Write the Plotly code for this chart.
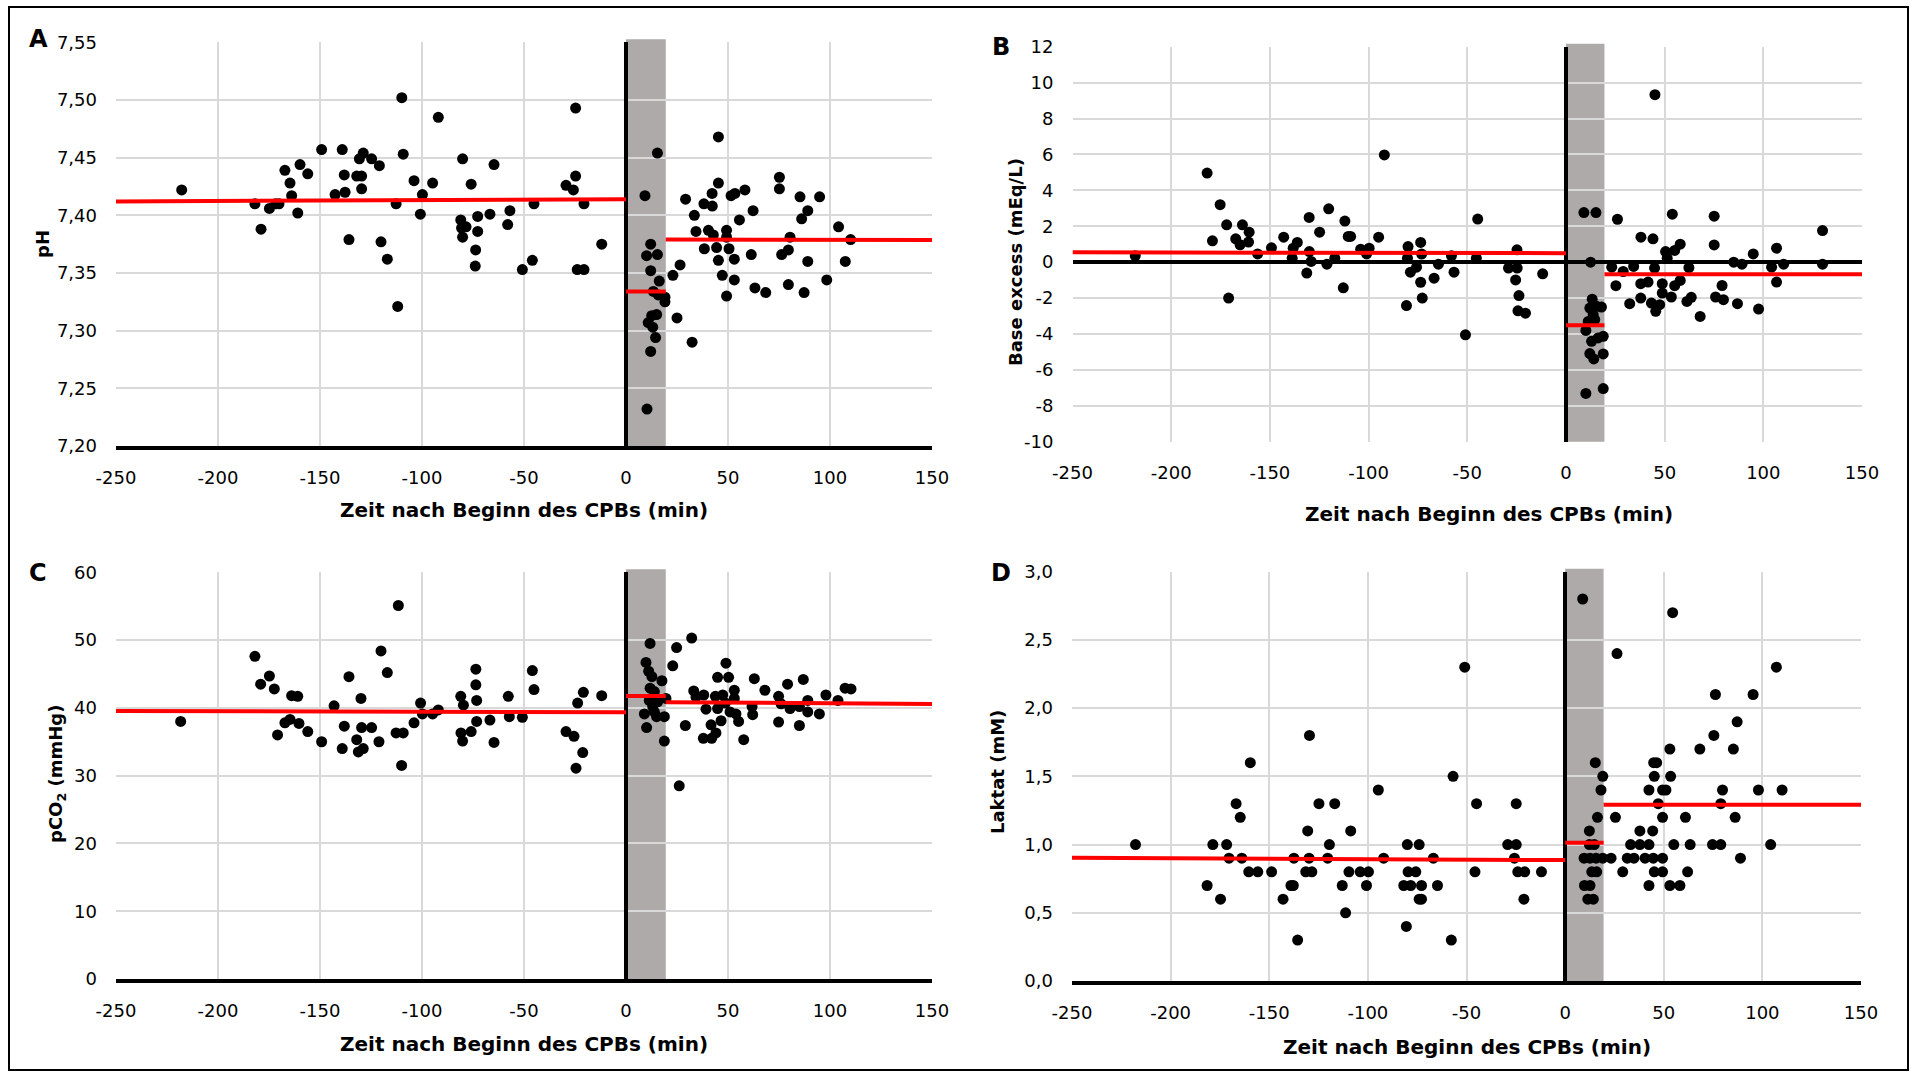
import plotly.graph_objects as go

# ---------------------------------------------------------------------------
# Axis ticks
# ---------------------------------------------------------------------------
time_tickvals = [-250, -200, -150, -100, -50, 0, 50, 100, 150]
time_ticktext = ["-250", "-200", "-150", "-100", "-50", "0", "50", "100", "150"]

ph_tickvals = [7.20, 7.25, 7.30, 7.35, 7.40, 7.45, 7.50, 7.55]
ph_ticktext = ["7,20", "7,25", "7,30", "7,35", "7,40", "7,45", "7,50", "7,55"]

be_tickvals = [-10, -8, -6, -4, -2, 0, 2, 4, 6, 8, 10, 12]
be_ticktext = ["-10", "-8", "-6", "-4", "-2", "0", "2", "4", "6", "8", "10", "12"]

pco2_tickvals = [0, 10, 20, 30, 40, 50, 60]
pco2_ticktext = ["0", "10", "20", "30", "40", "50", "60"]

lac_tickvals = [0.0, 0.5, 1.0, 1.5, 2.0, 2.5, 3.0]
lac_ticktext = ["0,0", "0,5", "1,0", "1,5", "2,0", "2,5", "3,0"]

# Time spans (min) of the three phases around the start of CPB
pre_span = [-250, 0]
cpb_span = [0, 19.5]
post_span = [19.5, 150]

# ---------------------------------------------------------------------------
# A: pH
# ---------------------------------------------------------------------------
ph_time = [
    -217.8, -181.9, -178.9, -174.8, -171.7, -170.1, -167.2, -164.7, -163.9, -160.9,
    -159.8, -156.0, -149.2, -142.6, -139.1, -138.1, -137.7, -135.8, -132.0, -129.6,
    -130.7, -128.8, -129.6, -124.7, -120.9, -120.1, -117.0, -112.7, -111.9, -109.9,
    -109.2, -103.9, -100.8, -99.8, -94.8, -92.0, -81.0, -80.1, -80.6, -78.4,
    -80.1, -75.9, -73.7, -73.9, -72.7, -72.7, -66.7, -64.7, -58.0, -56.9,
    -50.8, -45.9, -45.1, -29.4, -25.8, -24.7, -24.7, -23.9, -20.6, -20.6,
    -11.9,
    9.3, 15.4, 12.1, 10.1, 15.4, 12.1, 16.3, 13.4, 15.8, 19.1,
    19.1, 12.6, 15.0, 10.9, 13.1, 14.5, 12.1, 10.3,
    23.0, 26.5, 25.0, 32.4, 29.2, 33.5, 34.3, 38.4, 38.2, 42.3,
    42.2, 40.4, 42.8, 45.3, 45.3, 44.4, 45.3, 47.2, 49.3, 49.3,
    49.3, 50.5, 51.5, 53.4, 53.1, 53.1, 55.6, 58.3, 62.3, 61.4,
    63.2, 68.5, 75.2, 75.2, 76.3, 79.6, 80.4, 79.6, 85.3, 86.1,
    89.1, 89.1, 87.3, 94.9, 98.4, 104.2, 110.1, 107.5,
]
ph_value = [
    7.422, 7.410, 7.388, 7.406, 7.410, 7.410, 7.439, 7.428, 7.417, 7.402,
    7.444, 7.436, 7.457, 7.418, 7.457, 7.435, 7.420, 7.379, 7.434, 7.434,
    7.449, 7.454, 7.423, 7.449, 7.443, 7.377, 7.362, 7.410, 7.321, 7.502,
    7.453, 7.430, 7.401, 7.418, 7.428, 7.485, 7.396, 7.449, 7.389, 7.390,
    7.381, 7.427, 7.370, 7.356, 7.386, 7.399, 7.401, 7.444, 7.392, 7.404,
    7.353, 7.361, 7.410, 7.426, 7.422, 7.434, 7.493, 7.353, 7.353, 7.410,
    7.375,
    7.417, 7.454, 7.375, 7.365, 7.366, 7.352, 7.343, 7.334, 7.331, 7.329,
    7.325, 7.313, 7.314, 7.307, 7.303, 7.294, 7.282, 7.232,
    7.348, 7.357, 7.311, 7.290, 7.414, 7.400, 7.386, 7.371, 7.410, 7.408,
    7.419, 7.387, 7.383, 7.468, 7.428, 7.372, 7.361, 7.348, 7.387, 7.381,
    7.330, 7.371, 7.417, 7.419, 7.362, 7.344, 7.396, 7.422, 7.404, 7.366,
    7.337, 7.333, 7.433, 7.423, 7.366, 7.370, 7.381, 7.340, 7.416, 7.397,
    7.404, 7.360, 7.333, 7.416, 7.344, 7.390, 7.379, 7.360,
]
ph_mean_pre = [7.412, 7.414]
ph_mean_cpb = [7.334, 7.334]
ph_mean_post = [7.379, 7.3785]

# ---------------------------------------------------------------------------
# B: base excess
# ---------------------------------------------------------------------------
be_time = [
    -218.2, -181.8, -175.2, -179.1, -171.9, -170.9, -167.3, -165.1, -163.9, -160.5,
    -160.8, -156.2, -149.2, -143.0, -138.7, -138.2, -136.1, -130.1, -130.0, -131.3,
    -129.1, -124.8, -121.1, -120.2, -117.1, -112.8, -112.0, -110.3, -109.1, -104.0,
    -101.0, -99.7, -94.9, -92.0, -80.8, -80.0, -80.3, -78.8, -75.7, -73.6,
    -73.1, -73.6, -72.8, -66.8, -64.6, -58.0, -56.7, -50.9, -45.4, -44.7,
    -29.1, -24.8, -24.7, -25.5, -23.8, -24.3, -20.5, -11.8,
    9.1, 15.2, 12.5, 13.3, 12.1, 15.5, 18.0, 13.8, 11.3, 14.6,
    10.1, 13.0, 16.3, 18.9, 12.1, 14.1, 18.9, 10.1, 18.9,
    26.1, 23.2, 25.3, 29.0, 32.3, 34.3, 38.0, 37.9, 37.9, 41.6,
    43.3, 44.1, 44.9, 45.5, 45.1, 47.5, 48.8, 48.8, 50.5, 51.3,
    53.4, 53.9, 55.1, 55.1, 57.9, 57.9, 61.3, 63.5, 62.3, 68.0,
    75.1, 75.1, 75.8, 79.1, 79.8, 85.0, 89.2, 86.9, 94.9, 97.6,
    104.2, 106.7, 106.7, 110.3, 130.0, 130.0,
]
be_value = [
    0.35, 4.96, 3.20, 1.19, 2.08, -2.00, 1.30, 0.97, 2.08, 1.67,
    1.12, 0.46, 0.80, 1.39, 0.22, 0.78, 1.10, 2.49, 0.59, -0.61,
    0.04, 1.67, -0.11, 2.97, 0.22, -1.43, 2.29, 1.43, 1.43, 0.72,
    0.46, 0.78, 1.39, 5.97, -2.42, 0.87, 0.22, -0.56, -0.28, 1.10,
    0.45, -1.12, -2.00, -0.89, -0.11, 0.35, -0.56, -4.05, 0.22, 2.40,
    -0.33, 0.69, -0.33, -0.99, -1.86, -2.71, -2.84, -0.65,
    2.76, 2.76, 0.00, -2.06, -2.56, -2.46, -2.50, -2.93, -3.30, -3.20,
    -3.80, -4.41, -4.22, -4.13, -5.09, -5.39, -5.11, -7.31, -7.04,
    2.39, -0.28, -1.31, -0.52, -2.31, -0.24, 1.39, -1.20, -2.00, -1.11,
    -2.28, 1.30, -0.33, -2.74, 9.33, -2.37, -1.20, -1.72, 0.59, 0.22,
    -1.94, 2.67, 0.65, -1.31, 1.00, -1.02, -2.19, -1.96, -0.31, -3.02,
    2.56, 0.96, -1.94, -1.30, -2.09, 0.00, -0.11, -2.31, 0.46, -2.61,
    -0.28, 0.78, -1.11, -0.11, 1.76, -0.11,
]
be_mean_pre = [0.55, 0.50]
be_mean_cpb = [-3.52, -3.52]
be_mean_post = [-0.68, -0.68]

# ---------------------------------------------------------------------------
# C: pCO2
# ---------------------------------------------------------------------------
pco2_time = [
    -218.3, -181.9, -179.1, -174.8, -172.4, -170.8, -167.2, -164.7, -163.9, -160.9,
    -160.3, -156.0, -149.2, -143.1, -139.1, -138.1, -135.8, -132.0, -131.2, -128.8,
    -129.9, -129.6, -124.7, -121.1, -120.1, -117.0, -112.7, -109.2, -111.6, -110.0,
    -103.9, -100.7, -99.8, -94.8, -92.0, -81.0, -79.7, -80.9, -80.1, -75.9,
    -73.6, -73.6, -73.2, -73.2, -66.7, -64.7, -57.7, -57.2, -50.8, -45.9,
    -45.1, -29.4, -25.5, -24.5, -23.7, -21.2, -20.9, -11.9,
    11.8, 9.8, 11.1, 12.7, 17.6, 11.8, 13.9, 11.4, 15.5, 19.6,
    13.1, 9.0, 15.0, 18.8, 10.1, 18.8, 13.9,
    24.8, 32.2, 22.9, 26.1, 29.1, 33.2, 34.3, 38.1, 39.2, 37.9,
    42.0, 41.7, 44.1, 44.9, 43.8, 47.4, 44.9, 46.6, 49.0, 50.3,
    48.7, 51.0, 53.1, 53.1, 53.9, 55.2, 57.7, 61.8, 62.1, 62.9,
    68.1, 74.8, 74.8, 76.0, 79.2, 80.4, 85.0, 85.0, 86.9, 89.1,
    89.1, 94.8, 98.0, 103.9, 107.4, 110.3,
]
pco2_value = [
    38.0, 47.6, 43.5, 44.7, 42.8, 36.0, 37.8, 38.3, 41.8, 41.7,
    37.7, 36.5, 35.0, 40.3, 34.0, 37.3, 44.6, 35.3, 33.5, 34.0,
    41.4, 37.1, 37.1, 35.0, 48.4, 45.2, 36.3, 36.3, 55.1, 31.5,
    37.8, 40.7, 39.1, 39.1, 39.7, 41.7, 40.4, 36.3, 35.1, 36.5,
    45.7, 43.4, 41.1, 38.0, 38.2, 34.9, 41.7, 38.7, 38.6, 45.5,
    42.7, 36.5, 35.8, 31.1, 40.7, 33.4, 42.3, 41.8,
    49.5, 46.7, 45.4, 44.6, 44.0, 42.9, 42.4, 41.1, 40.9, 41.4,
    40.2, 39.1, 38.7, 38.7, 37.1, 35.1, 39.4,
    48.9, 50.3, 46.2, 28.5, 37.4, 42.5, 41.6, 41.9, 39.8, 35.5,
    35.5, 37.5, 36.3, 44.5, 41.7, 41.9, 39.9, 38.1, 46.6, 44.5,
    40.7, 39.4, 42.6, 41.4, 39.1, 38.0, 35.3, 40.2, 39.0, 44.3,
    42.6, 41.7, 37.9, 40.6, 43.5, 39.9, 37.4, 40.2, 44.2, 41.1,
    39.4, 39.1, 41.9, 41.1, 42.9, 42.8,
]
pco2_mean_pre = [39.54, 39.35]
pco2_mean_cpb = [41.76, 41.76]
pco2_mean_post = [40.83, 40.58]

# ---------------------------------------------------------------------------
# D: lactate
# ---------------------------------------------------------------------------
lac_time = [
    -217.8, -181.5, -178.6, -174.7, -171.6, -170.4, -166.8, -164.7, -163.9, -160.4,
    -159.6, -155.8, -148.8, -143.0, -139.0, -137.8, -137.5, -135.6, -131.5, -130.5,
    -129.8, -128.4, -129.6, -124.8, -120.4, -119.5, -116.8, -113.0, -111.3, -109.6,
    -108.7, -103.9, -100.7, -99.7, -94.7, -92.0, -80.5, -81.8, -80.0, -79.6,
    -78.3, -75.7, -74.0, -74.0, -72.8, -72.8, -66.8, -64.7, -57.7, -56.8,
    -50.9, -45.7, -44.9, -29.1, -24.8, -24.8, -25.7, -24.0, -20.5, -20.9,
    -12.0,
    8.9, 15.3, 19.1, 18.2, 16.4, 12.3, 12.3, 14.8, 9.6, 12.6,
    15.7, 19.1, 13.5, 16.0, 9.8, 12.6, 11.5, 14.3,
    23.3, 25.5, 26.3, 29.2, 31.5, 33.2, 34.9, 37.9, 37.9, 40.5,
    42.5, 42.5, 42.5, 44.4, 44.9, 46.4, 45.2, 44.7, 45.2, 47.2,
    49.4, 49.4, 49.4, 49.4, 51.1, 53.1, 53.5, 53.1, 54.5, 55.1,
    58.2, 61.0, 62.1, 63.4, 68.3, 74.7, 78.9, 75.4, 76.2, 78.9,
    79.8, 85.3, 87.2, 86.2, 88.9, 95.3, 98.0, 104.2, 107.1, 110.0,
]
lac_value = [
    1.0, 0.7, 1.0, 0.6, 1.0, 0.9, 1.3, 1.2, 0.9, 0.8,
    1.6, 0.8, 0.8, 0.6, 0.7, 0.7, 0.9, 0.3, 0.8, 1.1,
    0.9, 0.8, 1.8, 1.3, 0.9, 1.0, 1.3, 0.7, 0.5, 0.8,
    1.1, 0.8, 0.7, 0.8, 1.4, 0.9, 0.4, 0.7, 1.0, 0.8,
    0.7, 0.8, 1.0, 0.6, 0.7, 0.6, 0.9, 0.7, 0.3, 1.5,
    2.3, 0.8, 1.3, 1.0, 1.0, 1.3, 0.9, 0.8, 0.8, 0.6,
    0.8,
    2.8, 1.6, 1.5, 1.4, 1.2, 1.1, 1.0, 1.0, 0.9, 0.9,
    0.9, 0.9, 0.8, 0.8, 0.7, 0.7, 0.6, 0.6,
    0.9, 1.2, 2.4, 0.8, 0.9, 1.0, 0.9, 1.1, 1.0, 0.9,
    1.0, 1.4, 0.7, 1.1, 1.6, 1.6, 1.5, 0.9, 0.8, 1.3,
    1.4, 1.2, 0.9, 0.8, 1.4, 1.7, 1.5, 0.7, 2.7, 1.0,
    0.7, 1.2, 0.8, 1.0, 1.7, 1.0, 1.0, 1.8, 2.1, 1.3,
    1.4, 1.7, 1.9, 1.2, 0.9, 2.1, 1.4, 1.0, 2.3, 1.4,
]
lac_mean_pre = [0.903, 0.886]
lac_mean_cpb = [1.013, 1.013]
lac_mean_post = [1.292, 1.292]

# ---------------------------------------------------------------------------
# Page geometry (pixels)
# ---------------------------------------------------------------------------
W, H = 1915, 1073


def fx(px):
    return px / W


def fy(py):
    return 1 - py / H


TICK_FONT = dict(family="DejaVu Sans", size=18, color="black")
XTITLE_FONT = dict(family="DejaVu Sans", size=20, color="black")
YTITLE_FONT = dict(family="DejaVu Sans", size=18, color="black")
LETTER_FONT = dict(family="DejaVu Sans", size=24, color="black")
GRID = "#D9D9D9"
BAND = "#AEAAAA"
RED = "#FF0000"

panels = [
    dict(letter="A", box=(116, 42.3, 932, 446), yrange=[7.20, 7.55],
         yticks=(ph_tickvals, ph_ticktext), t=ph_time, v=ph_value,
         means=(ph_mean_pre, ph_mean_cpb, ph_mean_post),
         ytitle="<b>pH</b>", ytitle_xy=(43, 244), xtitle_xy=(524, 509.5),
         letter_xy=(38.5, 39), zero_axis_y=False, xstandoff=12),
    dict(letter="B", box=(1072.5, 46.7, 1862, 441.7), yrange=[-10, 12],
         yticks=(be_tickvals, be_ticktext), t=be_time, v=be_value,
         means=(be_mean_pre, be_mean_cpb, be_mean_post),
         ytitle="<b>Base excess (mEq/L)</b>", ytitle_xy=(1015, 262),
         xtitle_xy=(1489, 513.5), letter_xy=(1001, 46.5), zero_axis_y=True,
         xstandoff=18),
    dict(letter="C", box=(116, 572.3, 932, 979), yrange=[0, 60],
         yticks=(pco2_tickvals, pco2_ticktext), t=pco2_time, v=pco2_value,
         means=(pco2_mean_pre, pco2_mean_cpb, pco2_mean_post),
         ytitle="<b>pCO<sub>2</sub> (mmHg)</b>", ytitle_xy=(57, 774),
         xtitle_xy=(524, 1044), letter_xy=(38, 572.5), zero_axis_y=False,
         xstandoff=12),
    dict(letter="D", box=(1072, 571.7, 1861, 981), yrange=[0, 3.0],
         yticks=(lac_tickvals, lac_ticktext), t=lac_time, v=lac_value,
         means=(lac_mean_pre, lac_mean_cpb, lac_mean_post),
         ytitle="<b>Laktat (mM)</b>", ytitle_xy=(997, 772),
         xtitle_xy=(1467, 1047), letter_xy=(1001, 572.5), zero_axis_y=False,
         xstandoff=12),
]

fig = go.Figure()
layout = dict(
    width=W, height=H, autosize=False,
    margin=dict(l=0, r=0, t=0, b=0, autoexpand=False),
    paper_bgcolor="white", plot_bgcolor="white",
    showlegend=False, separators=",.",
    shapes=[], annotations=[],
)

for i, p in enumerate(panels, start=1):
    xa = "xaxis" if i == 1 else f"xaxis{i}"
    ya = "yaxis" if i == 1 else f"yaxis{i}"
    xr = "x" if i == 1 else f"x{i}"
    yr = "y" if i == 1 else f"y{i}"
    left, top, right, bottom = p["box"]

    layout[xa] = dict(
        domain=[fx(left), fx(right)], anchor=yr, range=[-250, 150],
        tickmode="array", tickvals=time_tickvals, ticktext=time_ticktext,
        showgrid=True, gridcolor=GRID, gridwidth=1.5,
        zeroline=True, zerolinecolor="black", zerolinewidth=3.5,
        showline=not p["zero_axis_y"], linecolor="black", linewidth=4,
        ticks="", tickfont=TICK_FONT, ticklabelstandoff=p["xstandoff"],
        automargin=False, fixedrange=True,
    )
    layout[ya] = dict(
        domain=[fy(bottom), fy(top)], anchor=xr, range=p["yrange"],
        tickmode="array", tickvals=p["yticks"][0], ticktext=p["yticks"][1],
        showgrid=True, gridcolor=GRID, gridwidth=1.5,
        zeroline=p["zero_axis_y"], zerolinecolor="black", zerolinewidth=3.5,
        showline=False, ticks="", tickfont=TICK_FONT, ticklabelstandoff=18,
        automargin=False, fixedrange=True,
    )

    # shaded CPB start window
    layout["shapes"].append(dict(
        type="rect", xref=xr, yref="paper", layer="below",
        x0=cpb_span[0], x1=cpb_span[1], y0=fy(bottom), y1=fy(top - 3),
        fillcolor=BAND, line=dict(width=0),
    ))

    # measurements
    fig.add_trace(go.Scatter(
        x=p["t"], y=p["v"], mode="markers", xaxis=xr, yaxis=yr,
        marker=dict(color="black", size=11, line=dict(width=0)),
        hoverinfo="x+y",
    ))

    # phase means
    for span, mean in zip((pre_span, cpb_span, post_span), p["means"]):
        fig.add_trace(go.Scatter(
            x=span, y=mean, mode="lines", xaxis=xr, yaxis=yr,
            line=dict(color=RED, width=4), hoverinfo="skip",
        ))

    # panel letter and titles
    lx, ly = p["letter_xy"]
    layout["annotations"].append(dict(
        text=f"<b>{p['letter']}</b>", x=fx(lx), y=fy(ly), xref="paper", yref="paper",
        xanchor="center", yanchor="middle", showarrow=False, font=LETTER_FONT,
    ))
    tx, ty = p["ytitle_xy"]
    layout["annotations"].append(dict(
        text=p["ytitle"], x=fx(tx), y=fy(ty), xref="paper", yref="paper",
        xanchor="center", yanchor="middle", showarrow=False, textangle=-90,
        font=YTITLE_FONT,
    ))
    tx, ty = p["xtitle_xy"]
    layout["annotations"].append(dict(
        text="<b>Zeit nach Beginn des CPBs (min)</b>", x=fx(tx), y=fy(ty),
        xref="paper", yref="paper", xanchor="center", yanchor="middle",
        showarrow=False, font=XTITLE_FONT,
    ))

# outer frame
layout["shapes"].append(dict(
    type="rect", xref="paper", yref="paper", layer="above",
    x0=fx(9), x1=fx(1908), y0=fy(1070), y1=fy(7),
    line=dict(color="black", width=2), fillcolor="rgba(0,0,0,0)",
))

fig.update_layout(**layout)
fig.write_html("out.html")
